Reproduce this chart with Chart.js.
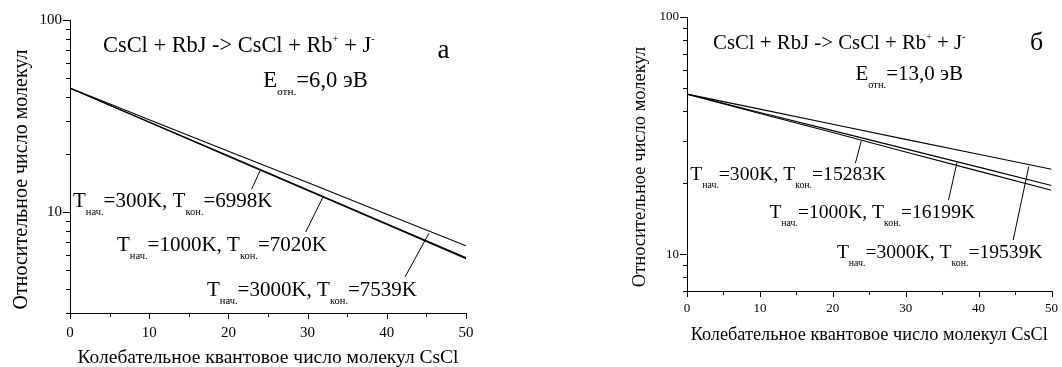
<!DOCTYPE html>
<html>
<head>
<meta charset="utf-8">
<script src="https://cdn.jsdelivr.net/npm/chart.js@4/dist/chart.umd.min.js"></script>
<style>
  body { margin: 0; background: #fff; width: 1062px; height: 367px; position: relative; overflow: hidden; }
  #grafikA { position: absolute; left: 0; top: 0; }
  #grafikB { position: absolute; left: 600px; top: 0; }
</style>
</head>
<body>
<canvas id="grafikA" width="520" height="367"></canvas>
<canvas id="grafikB" width="462" height="367"></canvas>
<script>
// колебательное квантовое число
const kvantovoeChislo = [0, 10, 20, 30, 40, 50];

// рисунок а, E отн. = 6,0 эВ
const a300 = [44.2, 29.4, 19.5, 13.0, 8.65, 5.75];
const a1000 = [44.2, 29.5, 19.7, 13.1, 8.73, 5.82];
const a3000 = [44.3, 30.3, 20.8, 14.3, 9.77, 6.7];

// рисунок б, E отн. = 13,0 эВ
const b300 = [47.3, 39.2, 32.6, 27.0, 22.4, 18.6];
const b1000 = [47.3, 39.6, 33.2, 27.8, 23.3, 19.5];
const b3000 = [47.3, 40.9, 35.3, 30.5, 26.4, 22.8];

// деления осей
const xDeleniya = [0, 5, 10, 15, 20, 25, 30, 35, 40, 45, 50];
const yDeleniyaA = [3, 4, 5, 6, 7, 8, 9, 10, 20, 30, 40, 50, 60, 70, 80, 90, 100];
const yDeleniyaB = [7, 8, 9, 10, 20, 30, 40, 50, 60, 70, 80, 90, 100];
const yPodpisi = [10, 100];

const SHRIFT = "'Liberation Serif', 'Times New Roman', serif";

function tochki(znacheniya) {
  return kvantovoeChislo.map((v, i) => ({ x: v, y: znacheniya[i] }));
}

function nabor(znacheniya) {
  return { data: tochki(znacheniya), borderColor: '#000', borderWidth: 1.1,
    pointRadius: 0, fill: false, tension: 0 };
}

// текст с нижними и верхними индексами
function tekst(ctx, x, y, chasti, razmer) {
  let tx = x;
  chasti.forEach(([s, rezhim]) => {
    let r = razmer, dy = 0;
    if (rezhim === 'sub') { r = razmer * 0.5; dy = razmer * 0.38; }
    if (rezhim === 'sup') { r = razmer * 0.48; dy = -razmer * 0.42; }
    ctx.font = r + 'px ' + SHRIFT;
    ctx.fillText(s, tx, y + dy);
    tx += ctx.measureText(s).width;
  });
}

function reakciya() {
  return [['CsCl + RbJ -> CsCl + Rb'], ['+', 'sup'], [' + J'], ['-', 'sup']];
}

function temperatury(nach, kon) {
  return [['T'], ['нач.', 'sub'], ['=' + nach + 'K, T'], ['кон.', 'sub'], ['=' + kon + 'K']];
}

function podpisiPlugin(p) {
  return {
    id: 'podpisi',
    afterDraw(chart) {
      const { ctx, chartArea, scales: { x, y } } = chart;
      ctx.save();
      ctx.strokeStyle = '#000';
      ctx.fillStyle = '#000';
      ctx.lineWidth = 1;
      ctx.beginPath();
      xDeleniya.forEach(v => {
        const px = Math.round(x.getPixelForValue(v)) + 0.5;
        const dl = v % 10 === 0 ? 6 : 4;
        ctx.moveTo(px, chartArea.bottom);
        ctx.lineTo(px, chartArea.bottom + dl);
      });
      p.yDeleniya.forEach(v => {
        const py = Math.round(y.getPixelForValue(v)) + 0.5;
        const dl = yPodpisi.includes(v) ? 7 : 4;
        ctx.moveTo(chartArea.left, py);
        ctx.lineTo(chartArea.left - dl, py);
      });
      ctx.stroke();

      ctx.beginPath();
      p.vynoski.forEach(([x1, y1, x2, y2]) => {
        ctx.moveTo(x.getPixelForValue(x1), y.getPixelForValue(y1));
        ctx.lineTo(x.getPixelForValue(x2), y.getPixelForValue(y2));
      });
      ctx.stroke();

      ctx.textBaseline = 'alphabetic';
      ctx.textAlign = 'left';
      p.teksty.forEach(t => tekst(ctx, x.getPixelForValue(t.x), y.getPixelForValue(t.y), t.chasti, t.razmer));

      // подпись оси Y
      ctx.translate(p.osY.x, (chartArea.top + chartArea.bottom) / 2 + p.osY.sdvig);
      ctx.rotate(-Math.PI / 2);
      ctx.textAlign = 'center';
      ctx.textBaseline = 'middle';
      ctx.font = p.osY.razmer + 'px ' + SHRIFT;
      ctx.fillText('Относительное число молекул', 0, 0);
      ctx.restore();
    }
  };
}

function sozdatGrafik(id, nabory, yMin, r) {
  return new Chart(document.getElementById(id), {
    type: 'line',
    data: { datasets: nabory.map(nabor) },
    options: {
      responsive: false,
      animation: false,
      devicePixelRatio: 1,
      layout: { padding: { left: 0, right: r.pravo, top: r.verh, bottom: 0 } },
      plugins: { legend: { display: false }, tooltip: { enabled: false } },
      scales: {
        x: {
          type: 'linear', min: 0, max: 50,
          ticks: { stepSize: 10, autoSkip: false, maxRotation: 0, padding: r.otstupTiki,
            color: '#000', font: { family: SHRIFT, size: r.tiki } },
          grid: { display: false, drawTicks: true, tickLength: 6 },
          border: { display: true, color: '#000', width: 1 },
          title: { display: true, text: 'Колебательное квантовое число молекул CsCl', color: '#000',
            font: { family: SHRIFT, size: r.osi }, padding: { top: 0, bottom: r.niz } },
          afterFit: s => { s.height = r.vysotaX; }
        },
        y: {
          type: 'logarithmic', min: yMin, max: 100,
          afterBuildTicks: s => { s.ticks = r.yDeleniya.map(v => ({ value: v })); },
          ticks: { autoSkip: false, padding: 2, color: '#000',
            font: { family: SHRIFT, size: r.tiki },
            callback: v => yPodpisi.includes(v) ? String(v) : '' },
          grid: { display: false, drawTicks: true, tickLength: 6 },
          border: { display: true, color: '#000', width: 1 },
          afterFit: s => { s.width = r.shirinaY; }
        }
      }
    },
    plugins: [podpisiPlugin(r)]
  });
}

sozdatGrafik('grafikA', [a300, a1000, a3000], 3, {
  pravo: 54, verh: 20, vysotaX: 54, shirinaY: 70, niz: -3, otstupTiki: 5, tiki: 15, osi: 19.5,
  yDeleniya: yDeleniyaA,
  osY: { x: 22, sdvig: 13, razmer: 20 },
  vynoski: [[24, 16.5, 22.94, 13.2], [31.94, 12.0, 29.76, 7.91], [45.33, 7.8, 42.3, 4.62]],
  teksty: [
    { x: 4.17, y: 68.5, razmer: 22.4, chasti: reakciya() },
    { x: 46.4, y: 63.8, razmer: 27, chasti: [['а']] },
    { x: 24.4, y: 45.1, razmer: 22.6, chasti: [['E'], ['отн.', 'sub'], ['=6,0 эВ']] },
    { x: 0.38, y: 10.65, razmer: 21, chasti: temperatury(300, 6998) },
    { x: 5.93, y: 6.30, razmer: 21, chasti: temperatury(1000, 7020) },
    { x: 17.3, y: 3.68, razmer: 21, chasti: temperatury(3000, 7539) }
  ]
});

sozdatGrafik('grafikB', [b300, b1000, b3000], 7, {
  pravo: 7, verh: 17, vysotaX: 76, shirinaY: 87, niz: 21, otstupTiki: 4, tiki: 13, osi: 18.3,
  yDeleniya: yDeleniyaB,
  osY: { x: 40, sdvig: 13, razmer: 18.5 },
  vynoski: [[23.9, 30, 23.1, 24.2], [37.04, 24.4, 35.87, 16.9], [46.88, 23.4, 44.74, 11.46]],
  teksty: [
    { x: 3.57, y: 73.4, razmer: 20.8, chasti: reakciya() },
    { x: 47.05, y: 72.8, razmer: 26, chasti: [['б']] },
    { x: 23.1, y: 54.3, razmer: 21, chasti: [['E'], ['отн.', 'sub'], ['=13,0 эВ']] },
    { x: 0.45, y: 20.5, razmer: 19.6, chasti: temperatury(300, 15283) },
    { x: 11.3, y: 14.2, razmer: 19.6, chasti: temperatury(1000, 16199) },
    { x: 20.56, y: 9.62, razmer: 19.6, chasti: temperatury(3000, 19539) }
  ]
});
</script>
</body>
</html>
